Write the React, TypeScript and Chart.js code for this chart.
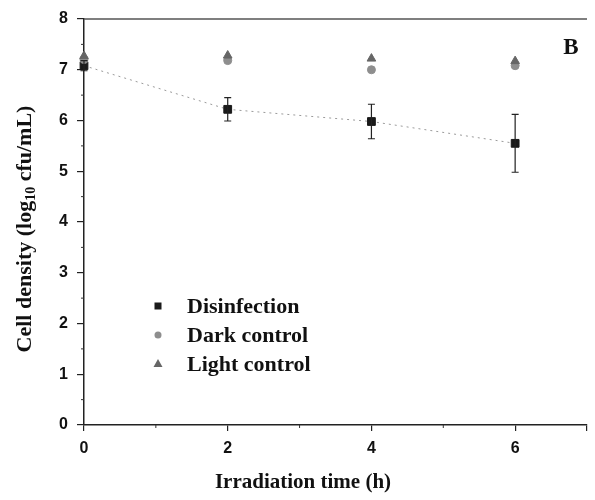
import React, { useEffect, useRef } from "react";
import { Chart, registerables } from "chart.js";

Chart.register(...registerables);

const timeH = [0, 2, 4, 6];
const disinfection = [7.08, 6.22, 5.98, 5.55];
const disinfectionErr = [0.1, 0.23, 0.34, 0.57];
const darkControl = [7.2, 7.18, 7.0, 7.08];
const lightControl = [7.27, 7.28, 7.22, 7.17];
const seriesNames = ["Disinfection", "Dark control", "Light control"];
const xTitle = "Irradiation time (h)";
const yTitleParts = ["Cell density (log", "10", " cfu/mL)"];
const panelLabel = "B";

const SERIF = "'Liberation Serif', 'Times New Roman', serif";
const SANS = "'Liberation Sans', Arial, sans-serif";

const toPts = (ys: number[]) => ys.map((y, i) => ({ x: timeH[i], y }));

const extrasPlugin = {
  id: "extras",
  afterDatasetsDraw(chart: any) {
    const ctx = chart.ctx;
    const xs = chart.scales.x;
    const ys = chart.scales.y;
    const area = chart.chartArea;
    ctx.save();
    // error bars
    ctx.strokeStyle = "#222";
    ctx.lineWidth = 1.2;
    disinfection.forEach((v, i) => {
      const px = xs.getPixelForValue(timeH[i]);
      const top = ys.getPixelForValue(v + disinfectionErr[i]);
      const bot = ys.getPixelForValue(v - disinfectionErr[i]);
      ctx.beginPath();
      ctx.moveTo(px, top);
      ctx.lineTo(px, bot);
      ctx.moveTo(px - 3.5, top);
      ctx.lineTo(px + 3.5, top);
      ctx.moveTo(px - 3.5, bot);
      ctx.lineTo(px + 3.5, bot);
      ctx.stroke();
    });
    // top border
    ctx.strokeStyle = "#555";
    ctx.lineWidth = 1.5;
    ctx.beginPath();
    ctx.moveTo(area.left, area.top);
    ctx.lineTo(area.right, area.top);
    ctx.stroke();
    // minor ticks
    ctx.strokeStyle = "#333";
    ctx.lineWidth = 1;
    for (let v = 0.5; v < 8; v += 1) {
      const py = ys.getPixelForValue(v);
      ctx.beginPath();
      ctx.moveTo(area.left, py);
      ctx.lineTo(area.left - 3, py);
      ctx.stroke();
    }
    for (let v = 1; v < 7; v += 2) {
      const px = xs.getPixelForValue(v);
      ctx.beginPath();
      ctx.moveTo(px, area.bottom);
      ctx.lineTo(px, area.bottom + 3);
      ctx.stroke();
    }
    // panel label
    ctx.fillStyle = "#111";
    ctx.font = `bold 23px ${SERIF}`;
    ctx.textAlign = "center";
    ctx.textBaseline = "middle";
    ctx.fillText(panelLabel, 571, 48);
    // x title
    ctx.font = `bold 21px ${SERIF}`;
    ctx.fillText(xTitle, 303, 483);
    // y title with subscript
    ctx.save();
    ctx.translate(25, 229);
    ctx.rotate(-Math.PI / 2);
    const mainFont = `bold 22px ${SERIF}`;
    const subFont = `bold 14px ${SERIF}`;
    ctx.font = mainFont;
    const w0 = ctx.measureText(yTitleParts[0]).width;
    const w2 = ctx.measureText(yTitleParts[2]).width;
    ctx.font = subFont;
    const w1 = ctx.measureText(yTitleParts[1]).width;
    let sx = -(w0 + w1 + w2) / 2;
    ctx.textAlign = "left";
    ctx.font = mainFont;
    ctx.fillText(yTitleParts[0], sx, 0);
    sx += w0;
    ctx.font = subFont;
    ctx.fillText(yTitleParts[1], sx, 6);
    sx += w1;
    ctx.font = mainFont;
    ctx.fillText(yTitleParts[2], sx, 0);
    ctx.restore();
    // legend
    const rows = [306, 335, 364];
    const mx = 158;
    ctx.font = `bold 22px ${SERIF}`;
    ctx.textAlign = "left";
    ctx.textBaseline = "middle";
    ctx.fillStyle = "#1a1a1a";
    ctx.fillRect(mx - 3.5, rows[0] - 3.5, 7, 7);
    ctx.fillStyle = "#8e8e8e";
    ctx.beginPath();
    ctx.arc(mx, rows[1], 3.5, 0, Math.PI * 2);
    ctx.fill();
    ctx.fillStyle = "#666";
    ctx.beginPath();
    ctx.moveTo(mx, rows[2] - 5);
    ctx.lineTo(mx + 4.5, rows[2] + 3);
    ctx.lineTo(mx - 4.5, rows[2] + 3);
    ctx.closePath();
    ctx.fill();
    ctx.fillStyle = "#111";
    seriesNames.forEach((n, i) => ctx.fillText(n, 187, rows[i] + 1));
    ctx.restore();
  },
};

export default function App() {
  const ref = useRef<HTMLCanvasElement>(null);
  useEffect(() => {
    document.body.style.margin = "0";
    const chart = new Chart(ref.current!, {
      type: "scatter",
      data: {
        datasets: [
          {
            label: seriesNames[0],
            data: toPts(disinfection),
            showLine: true,
            borderColor: "#9a9a9a",
            borderWidth: 1,
            borderDash: [2, 4],
            pointStyle: "rect",
            pointRadius: 5.5,
            backgroundColor: "#1a1a1a",
            pointBorderColor: "#1a1a1a",
            clip: false,
            order: 3,
          },
          {
            label: seriesNames[1],
            data: toPts(darkControl),
            pointStyle: "circle",
            pointRadius: 4,
            backgroundColor: "#8e8e8e",
            pointBorderColor: "#8e8e8e",
            clip: false,
            order: 2,
          },
          {
            label: seriesNames[2],
            data: toPts(lightControl),
            pointStyle: "triangle",
            pointRadius: 5,
            backgroundColor: "#666",
            pointBorderColor: "#666",
            clip: false,
            order: 1,
          },
        ],
      },
      options: {
        responsive: false,
        animation: false,
        layout: { padding: { top: 19, right: 0, left: 0, bottom: 0 } },
        plugins: { legend: { display: false }, tooltip: { enabled: false } },
        scales: {
          x: {
            type: "linear",
            min: 0,
            max: 7,
            afterFit: (s: any) => {
              s.height = 75;
            },
            ticks: {
              stepSize: 2,
              color: "#111",
              padding: 8,
              font: { family: SANS, weight: "bold", size: 16 },
              callback: (v: any) => (v % 2 === 0 ? String(v) : ""),
            },
            grid: { drawOnChartArea: false, tickLength: 6, color: "#222", lineWidth: 1.2 },
            border: { color: "#222", width: 1.5 },
          },
          y: {
            min: 0,
            max: 8,
            afterFit: (s: any) => {
              s.width = 84;
            },
            ticks: {
              stepSize: 1,
              color: "#111",
              padding: 9,
              font: { family: SANS, weight: "bold", size: 16 },
            },
            grid: { drawOnChartArea: false, tickLength: 7, color: "#222", lineWidth: 1.2 },
            border: { color: "#222", width: 1.5 },
          },
        },
      },
      plugins: [extrasPlugin],
    } as any);
    return () => chart.destroy();
  }, []);
  return <canvas ref={ref} width={595} height={500} />;
}
